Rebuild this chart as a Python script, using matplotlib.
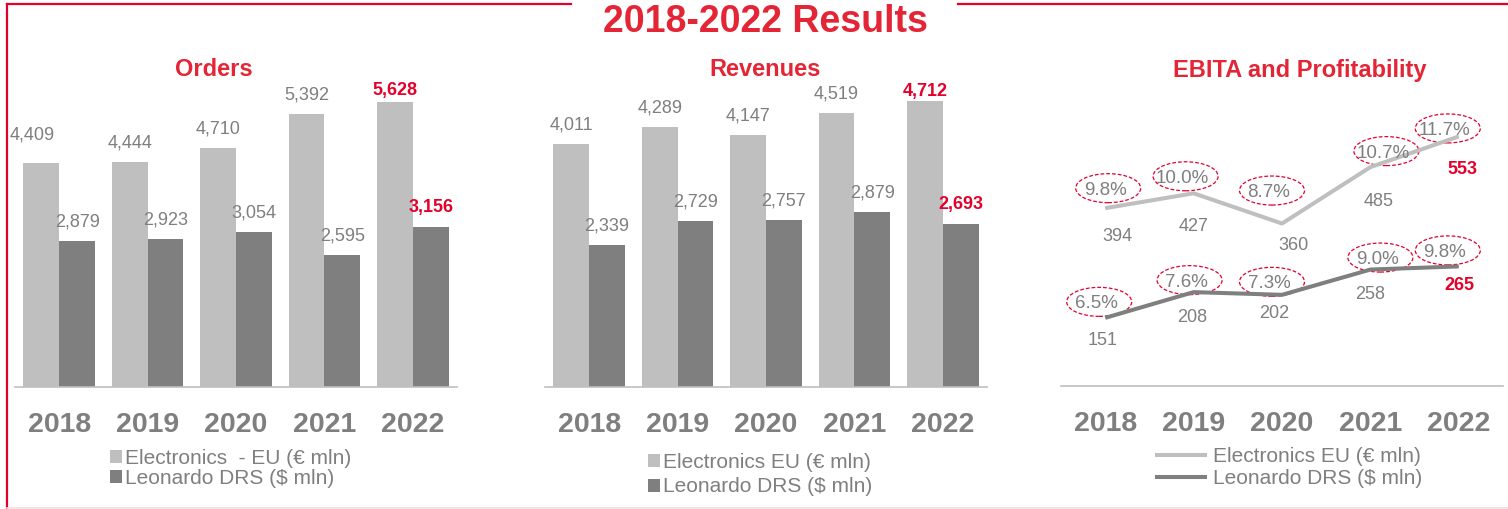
import matplotlib
matplotlib.use("Agg")
import matplotlib.pyplot as plt
import numpy as np
from matplotlib.lines import Line2D
from matplotlib.patches import Ellipse
from matplotlib import transforms

plt.rcParams['font.family'] = ['Liberation Sans', 'DejaVu Sans']

# ---------------- data ----------------
years = ['2018', '2019', '2020', '2021', '2022']

orders_eu = [4409, 4444, 4710, 5392, 5628]
orders_drs = [2879, 2923, 3054, 2595, 3156]

revenues_eu = [4011, 4289, 4147, 4519, 4712]
revenues_drs = [2339, 2729, 2757, 2879, 2693]

ebita_eu = [394, 427, 360, 485, 553]
ebita_drs = [151, 208, 202, 258, 265]
ros_eu = ['9.8%', '10.0%', '8.7%', '10.7%', '11.7%']
ros_drs = ['6.5%', '7.6%', '7.3%', '9.0%', '9.8%']

orders_labels = ['Electronics  - EU (€ mln)', 'Leonardo DRS ($ mln)']
revenues_labels = ['Electronics EU (€ mln)', 'Leonardo DRS ($ mln)']
ebita_labels = ['Electronics EU (€ mln)', 'Leonardo DRS ($ mln)']

# ---------------- style ----------------
W, H = 1508, 509
LIGHT = '#BFBFBF'
DARK = '#7F7F7F'
TXT = '#7F7F7F'
RED = '#E4002B'
TRED = '#E42535'
PX = 0.72  # px -> pt at dpi 100


def fx(p):
    return p / W


def fy(p):
    return 1 - p / H


fig = plt.figure(figsize=(W / 100, H / 100), dpi=100)

# frame lines
for xs, ys, c, lw in [([7, 571], [4, 4], RED, 1.6),
                      ([958, 1508], [4, 4], RED, 1.6),
                      ([7, 7], [4, 509], RED, 1.6),
                      ([7, 1508], [508, 508], '#F9D9DE', 1.2)]:
    fig.add_artist(Line2D([fx(v) for v in xs], [fy(v) for v in ys],
                          transform=fig.transFigure, color=c, lw=lw))

fig.text(fx(765), fy(32.5), '2018-2022 Results', ha='center', va='baseline',
         fontsize=27, fontweight='bold', color=TRED)

x = np.arange(len(years))


def style_axes(ax, ymax):
    ax.set_xlim(-0.5, len(years) - 0.5)
    ax.set_ylim(0, ymax)
    for s in ['top', 'right', 'left']:
        ax.spines[s].set_visible(False)
    ax.spines['bottom'].set_color(LIGHT)
    ax.spines['bottom'].set_linewidth(1.2)
    ax.set_yticks([])
    ax.set_xticks(x)
    ax.set_xticklabels(years, fontsize=20.5, fontweight='bold', color=TXT)
    for lbl in ax.get_xticklabels():
        lbl.set_va('baseline')
    ax.tick_params(axis='x', length=0, pad=45 * PX)
    ax.patch.set_alpha(0)


def bar_panel(left, eu, drs, ymax, title, title_x, labels, leg_xy, leg_sp, nudge=None):
    ax = fig.add_axes([fx(left), fy(387), 442 / W, 307 / H])
    w = 0.405
    b1 = ax.bar(x - w / 2, eu, width=w, color=LIGHT, label=labels[0])
    b2 = ax.bar(x + w / 2, drs, width=w, color=DARK, label=labels[1])
    style_axes(ax, ymax)
    for series, off in [(eu, -w / 2), (drs, w / 2)]:
        for i, v in enumerate(series):
            last = i == len(series) - 1
            dx, dy = 0, 0
            if nudge and (off < 0) and i in nudge:
                dx, dy = nudge[i]
            ax.annotate(f'{v:,}', xy=(x[i] + off, v), xytext=(dx * PX, (14.5 + dy) * PX),
                        textcoords='offset points', ha='center', va='baseline',
                        fontsize=13, color=RED if last else TXT,
                        fontweight='bold' if last else 'normal')
    fig.text(fx(title_x), fy(76.5), title, ha='center', va='baseline',
             fontsize=17, fontweight='bold', color=TRED)
    ax.legend(handles=[b1, b2], loc='upper left', bbox_to_anchor=(fx(leg_xy[0]), fy(leg_xy[1])),
              bbox_transform=fig.transFigure, frameon=False, borderpad=0, borderaxespad=0,
              handlelength=0.58, handleheight=0.58, handletextpad=0.15,
              labelspacing=leg_sp, fontsize=15, labelcolor=TXT)
    return ax


bar_panel(15, orders_eu, orders_drs, 6055, 'Orders', 214, orders_labels, (110, 449), 0.05,
          nudge={0: (-9, 9), 4: (0, -8)})
bar_panel(545, revenues_eu, revenues_drs, 5058, 'Revenues', 765, revenues_labels, (648, 453), 0.26,
          nudge={4: (0, -9)})

# ---------------- EBITA panel ----------------
ax3 = fig.add_axes([fx(1061), fy(386), 442 / W, 306 / H])
l1, = ax3.plot(x, ebita_eu, color=LIGHT, lw=2.9, label=ebita_labels[0], solid_capstyle='butt')
l2, = ax3.plot(x, ebita_drs, color=DARK, lw=2.9, label=ebita_labels[1], solid_capstyle='butt')
style_axes(ax3, 678)
fig.text(fx(1300), fy(76.5), 'EBITA and Profitability', ha='center', va='baseline',
         fontsize=17, fontweight='bold', color=TRED)

# label placement offsets (pixels): value labels below points, ellipses above
val_off_eu = [(12, 26), (0, 31), (11, 20), (8, 32), (4, 31)]
val_off_drs = [(-3, 21), (-1, 23), (-8, 17), (0, 23), (1, 17)]
ell_off_eu = [(3, 20), (-8, 17), (-10, 33), (16, 16), (-11, 8)]
ell_off_drs = [(-6, 16), (-4, 12), (-10, 13), (10, 12), (-11, 16)]

for vals, pcts, voff, eoff in [(ebita_eu, ros_eu, val_off_eu, ell_off_eu),
                               (ebita_drs, ros_drs, val_off_drs, ell_off_drs)]:
    for i, v in enumerate(vals):
        last = i == len(vals) - 1
        dx, dy = voff[i]
        ax3.annotate(f'{v}', xy=(x[i], v), xytext=(dx * PX, (-dy - 6.4) * PX),
                     textcoords='offset points', ha='center', va='baseline',
                     fontsize=13, color=RED if last else TXT,
                     fontweight='bold' if last else 'normal')
        ex, ey = eoff[i]
        trans = fig.dpi_scale_trans + transforms.ScaledTranslation(x[i], v, ax3.transData)
        ax3.add_artist(Ellipse((ex / 100, ey / 100), width=0.65, height=0.29, transform=trans,
                               fill=False, edgecolor=RED, lw=0.9, ls=(0, (3, 1.6))))
        ax3.annotate(pcts[i], xy=(x[i], v), xytext=((ex - 3) * PX, (ey - 6.6) * PX),
                     textcoords='offset points', ha='center', va='baseline',
                     fontsize=13.5, color=TXT)

ax3.legend(handles=[l1, l2], loc='upper left', bbox_to_anchor=(fx(1155), fy(447)),
           bbox_transform=fig.transFigure, frameon=False, borderpad=0, borderaxespad=0,
           handlelength=2.5, handletextpad=0.29, labelspacing=0.15, fontsize=15,
           labelcolor=TXT)

fig.savefig('out.png', dpi=100)
